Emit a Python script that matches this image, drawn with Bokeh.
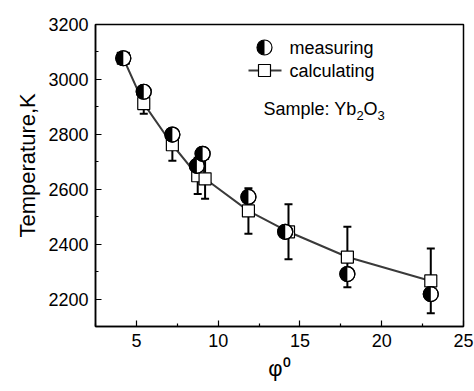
import math
from bokeh.plotting import figure
from bokeh.models import Range1d, FixedTicker, Label, Whisker, TeeHead, ColumnDataSource, Title
from bokeh.embed import file_html
from bokeh.resources import INLINE

# ---- data ----
meas_x = [4.2, 5.45, 7.2, 8.7, 9.05, 11.85, 14.1, 17.9, 23.0]
meas_y = [3077, 2955, 2799, 2685, 2729, 2572, 2445, 2291, 2218]
calc_x = [4.2, 5.45, 7.2, 8.75, 9.2, 11.85, 14.3, 17.9, 23.0]
calc_y = [3077, 2912, 2762, 2649, 2638, 2521, 2445, 2353, 2266]
calc_err = [0, 37, 58, 66, 73, 83, 100, 110, 118]
x_ticks = [5, 10, 15, 20, 25]
y_ticks = [2200, 2400, 2600, 2800, 3000, 3200]

FONT = "Liberation Sans"
W, H = 474, 391
X0, X1 = 2.5, 25.0
Y0, Y1 = 2100, 3200
# frame in canvas px
FL, FR, FT, FB = 95, 463, 24, 326

p = figure(width=W, height=H, output_backend="svg", toolbar_location=None,
           x_range=Range1d(X0, X1), y_range=Range1d(Y0, Y1),
           min_border_left=FL, min_border_right=W - FR,
           min_border_top=FT, min_border_bottom=H - FB)
p.grid.visible = False
p.outline_line_color = "black"
p.outline_line_width = 1.5
p.background_fill_color = "white"
p.border_fill_color = "white"

for ax in (p.xaxis[0], p.yaxis[0]):
    ax.axis_line_width = 1.5
    ax.axis_line_color = "black"
    ax.major_tick_in = 6
    ax.major_tick_out = 0
    ax.minor_tick_in = 3
    ax.minor_tick_out = 0
    ax.major_tick_line_width = 1.2
    ax.minor_tick_line_width = 1.2
    ax.major_label_text_font = FONT
    ax.major_label_text_font_size = "18px"
    ax.major_label_text_color = "black"
    ax.major_label_standoff = 7
    ax.axis_label_text_font = FONT
    ax.axis_label_text_font_style = "normal"
    ax.axis_label_text_color = "black"

p.xaxis.ticker = FixedTicker(ticks=x_ticks, minor_ticks=[t + 2.5 for t in [0] + x_ticks[:-1]])
p.yaxis.ticker = FixedTicker(ticks=y_ticks, minor_ticks=[t - 100 for t in y_ticks])

p.xaxis.axis_label = "\u03c6\u2070"
p.xaxis.axis_label_text_font_size = "22px"
p.xaxis.axis_label_standoff = 6

p.add_layout(Title(text="Temperature,K", align="left", offset=89, standoff=12,
                   text_font=FONT, text_font_size="22px", text_font_style="normal",
                   text_color="black"), "left")

# helpers to place in-frame annotations by pixel position
def px2x(px):
    return X0 + (px - FL) / (FR - FL) * (X1 - X0)

def py2y(py):
    return Y1 - (py - FT) / (FB - FT) * (Y1 - Y0)

# ---- calculating: line, error bars, squares ----
p.line(calc_x, calc_y, line_color="#3a3a3a", line_width=2)
src = ColumnDataSource(dict(x=calc_x,
                            lo=[y - e for y, e in zip(calc_y, calc_err)],
                            hi=[y + e for y, e in zip(calc_y, calc_err)]))
wh = Whisker(source=src, base="x", lower="lo", upper="hi", line_color="black", line_width=2,
             lower_head=TeeHead(size=8, line_width=2, line_color="black"),
             upper_head=TeeHead(size=8, line_width=2, line_color="black"))
p.add_layout(wh)
p.scatter(calc_x, calc_y, marker="square", size=12, fill_color="white",
          line_color="black", line_width=1.2)

# ---- measuring: half-filled circles ----
p.scatter(meas_x, meas_y, marker="circle", size=15, fill_color="white",
          line_color="black", line_width=1.2)
p.wedge(meas_x, meas_y, radius=7.5, radius_units="screen", start_angle=math.pi / 2,
        end_angle=3 * math.pi / 2, fill_color="black", line_color=None)
p.scatter(meas_x, meas_y, marker="circle", size=15, fill_color=None,
          line_color="black", line_width=1.2)

# ---- legend (manual) ----
lx, ly1, ly2 = px2x(264), py2y(47), py2y(70)
p.scatter([lx], [ly1], marker="circle", size=15, fill_color="white", line_color="black", line_width=1.2)
p.wedge([lx], [ly1], radius=7.5, radius_units="screen", start_angle=math.pi / 2,
        end_angle=3 * math.pi / 2, fill_color="black", line_color=None)
p.line([px2x(248), px2x(281)], [ly2, ly2], line_color="#3a3a3a", line_width=2)
p.scatter([lx], [ly2], marker="square", size=12, fill_color="white", line_color="black", line_width=1.2)

def lab(text, px, py, size="18px", align="left"):
    p.add_layout(Label(x=px2x(px), y=py2y(py), text=text, text_font=FONT, text_font_size=size,
                       text_align=align, text_baseline="middle", text_color="black"))

lab("measuring", 289, 47)
lab("calculating", 289, 70)
lab("Sample: Yb", 263, 108)
lab("2", 356, 115, size="13px")
lab("O", 363, 108)
lab("3", 377, 115, size="13px")

open("out.html", "w").write(file_html(p, INLINE))
